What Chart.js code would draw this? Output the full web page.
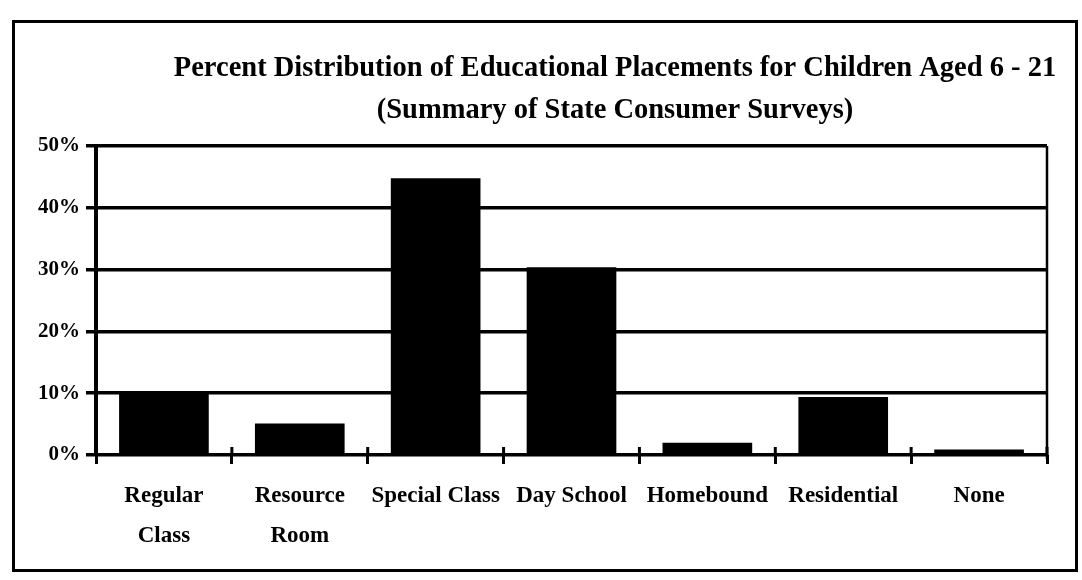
<!DOCTYPE html>
<html>
<head>
<meta charset="utf-8">
<script src="https://cdn.jsdelivr.net/npm/chart.js@4.4.1/dist/chart.umd.min.js"></script>
<style>
  html, body { margin: 0; padding: 0; background: #fff; }
  #wrap { position: relative; width: 1082px; height: 580px; overflow: hidden; }
  #frame { position: absolute; left: 12px; top: 20px; width: 1060px; height: 546px; border: 3px solid #000; }
  #chart { position: absolute; left: 0; top: 0; }
</style>
</head>
<body>
<div id="wrap">
  <div id="frame"></div>
  <canvas id="chart" width="1082" height="580"></canvas>
</div>
<script>
const titleLines = ["Percent Distribution of Educational Placements for Children Aged 6 - 21", "(Summary of State Consumer Surveys)"];
const categories = [["Regular", "Class"], ["Resource", "Room"], "Special Class", "Day School", "Homebound", "Residential", "None"];
const percents = [10.2, 5.1, 44.8, 30.4, 2.0, 9.4, 0.9];
const yTicks = [0, 10, 20, 30, 40, 50];

const fontFamily = '"Liberation Serif", "DejaVu Serif", serif';

// title + right border + tick marks crossing the baseline
const extras = {
  id: "extras",
  beforeDatasetsDraw(chart) {
    const ctx = chart.ctx;
    const area = chart.chartArea;
    const x = chart.scales.x;
    ctx.save();
    ctx.strokeStyle = "#000";
    ctx.lineWidth = 3;
    for (let i = 0; i <= categories.length; i++) {
      let px;
      if (i === 0) px = area.left;
      else if (i === categories.length) px = area.right;
      else px = (x.getPixelForTick(i - 1) + x.getPixelForTick(i)) / 2;
      ctx.beginPath();
      ctx.moveTo(px, area.bottom - 8);
      ctx.lineTo(px, area.bottom);
      ctx.stroke();
    }
    ctx.lineWidth = 2.5;
    ctx.beginPath();
    ctx.moveTo(area.right, area.top);
    ctx.lineTo(area.right, area.bottom + 4);
    ctx.stroke();
    ctx.restore();
  },
  afterDraw(chart) {
    const ctx = chart.ctx;
    ctx.save();
    ctx.fillStyle = "#000";
    ctx.font = "bold 28.5px " + fontFamily;
    ctx.textAlign = "center";
    ctx.textBaseline = "middle";
    ctx.fillText(titleLines[0], 615, 69);
    ctx.fillText(titleLines[1], 615, 111);
    ctx.restore();
  }
};

new Chart(document.getElementById("chart"), {
  type: "bar",
  data: {
    labels: categories,
    datasets: [{
      data: percents,
      backgroundColor: "#000",
      borderWidth: 0,
      barPercentage: 0.66,
      categoryPercentage: 1
    }]
  },
  options: {
    responsive: false,
    animation: false,
    layout: { padding: { left: 0, right: 35, top: 146, bottom: 0 } },
    plugins: { legend: { display: false }, tooltip: { enabled: false }, title: { display: false } },
    scales: {
      x: {
        offset: true,
        afterFit(scale) { scale.height = 125; },
        grid: { display: true, drawOnChartArea: false, drawTicks: true, tickLength: 9, offset: true, color: "#000", lineWidth: 3 },
        border: { display: false },
        ticks: {
          color: "#000",
          font: { family: fontFamily, size: 23, weight: "bold", lineHeight: 1.7 },
          padding: 13,
          autoSkip: false,
          maxRotation: 0
        }
      },
      y: {
        min: 0,
        max: 50,
        afterFit(scale) { scale.width = 96; },
        afterBuildTicks(scale) { scale.ticks = yTicks.map(v => ({ value: v })); },
        grid: { color: "#000", lineWidth: 3.5, tickLength: 10 },
        border: { display: true, color: "#000", width: 4 },
        ticks: {
          color: "#000",
          font: { family: fontFamily, size: 21, weight: "bold" },
          padding: 6,
          callback: v => v + "%"
        }
      }
    }
  },
  plugins: [extras]
});
</script>
</body>
</html>
